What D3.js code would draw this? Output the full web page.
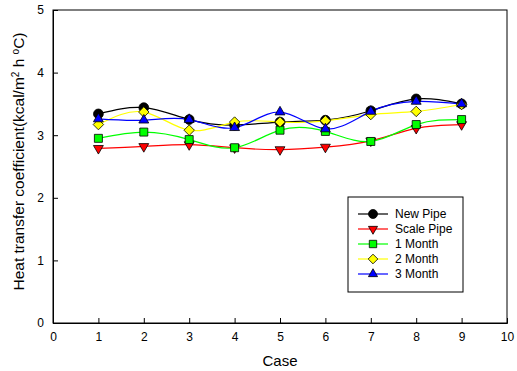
<!doctype html>
<html lang="en">
<head>
<meta charset="utf-8" />
<title>Heat transfer coefficient</title>
<script src="https://d3js.org/d3.v7.min.js"></script>
<style>
  body { margin: 0; background: #fff; font-family: "Liberation Sans", Arial, sans-serif; }
  svg text { font-family: "Liberation Sans", Arial, sans-serif; }
</style>
</head>
<body>
<div id="chart"></div>
<script>
// data
var cases = [1, 2, 3, 4, 5, 6, 7, 8, 9];
var newPipe   = [3.34, 3.44, 3.25, 3.16, 3.21, 3.24, 3.39, 3.58, 3.50];
var scalePipe = [2.79, 2.82, 2.85, 2.80, 2.77, 2.81, 2.91, 3.11, 3.17];
var month1    = [2.95, 3.05, 2.93, 2.80, 3.08, 3.06, 2.90, 3.17, 3.25];
var month2    = [3.17, 3.37, 3.08, 3.21, 3.21, 3.23, 3.33, 3.38, 3.49];
var month3    = [3.26, 3.24, 3.25, 3.12, 3.37, 3.10, 3.38, 3.54, 3.50];
var xTicks = [0, 1, 2, 3, 4, 5, 6, 7, 8, 9, 10];
var yTicks = [0, 1, 2, 3, 4, 5];

var series = [
  { name: "New Pipe",   values: newPipe,   line: "#000000", fill: "#000000", symbol: d3.symbolCircle },
  { name: "Scale Pipe", values: scalePipe, line: "#ff0000", fill: "#ff0000", symbol: "down" },
  { name: "1 Month",    values: month1,    line: "#00ff00", fill: "#00ff00", symbol: d3.symbolSquare },
  { name: "2 Month",    values: month2,    line: "#ffff00", fill: "#ffff00", symbol: d3.symbolDiamond2 },
  { name: "3 Month",    values: month3,    line: "#0000ff", fill: "#0000ff", symbol: d3.symbolTriangle2 }
];

var W = 517, H = 371;
var m = { left: 53, right: 10, top: 10, bottom: 48 };

var svg = d3.select("#chart").append("svg")
  .attr("width", W).attr("height", H);

var x = d3.scaleLinear().domain([0, 10]).range([m.left, W - m.right]);
var y = d3.scaleLinear().domain([0, 5]).range([H - m.bottom, m.top]);

// frame
svg.append("rect")
  .attr("x", x(0)).attr("y", y(5))
  .attr("width", x(10) - x(0)).attr("height", y(0) - y(5))
  .attr("fill", "none").attr("stroke", "#000").attr("stroke-width", 1);

var xAxis = svg.append("g")
  .attr("transform", "translate(0," + y(0) + ")")
  .call(d3.axisBottom(x).tickValues(xTicks).tickSize(-5).tickPadding(9).tickFormat(d3.format("d")));
var yAxis = svg.append("g")
  .attr("transform", "translate(" + x(0) + ",0)")
  .call(d3.axisLeft(y).tickValues(yTicks).tickSize(-5).tickPadding(9).tickFormat(d3.format("d")));

[xAxis, yAxis].forEach(function(a) {
  a.select(".domain").attr("stroke", "#000");
  a.selectAll(".tick line").attr("stroke", "#000");
  a.selectAll(".tick text").attr("font-size", 12).attr("fill", "#000");
});

// axis titles
svg.append("text")
  .attr("x", (x(0) + x(10)) / 2).attr("y", 366)
  .attr("text-anchor", "middle").attr("font-size", 15)
  .text("Case");

var yl = svg.append("text")
  .attr("transform", "translate(24," + ((y(0) + y(5)) / 2 - 5) + ") rotate(-90)")
  .attr("text-anchor", "middle").attr("font-size", 15.5);
yl.append("tspan").text("Heat transfer coefficient(kcal/m");
yl.append("tspan").attr("baseline-shift", "super").attr("font-size", 10).text("2");
yl.append("tspan").text(" h ");
yl.append("tspan").attr("baseline-shift", "super").attr("font-size", 10).text("o");
yl.append("tspan").text("C)");

function symPath(s, size) {
  if (s === "down") {
    return d3.symbol().type(d3.symbolTriangle2).size(size)();
  }
  return d3.symbol().type(s).size(size)();
}
function symSize(s) {
  if (s === d3.symbolCircle) return 75;
  if (s === d3.symbolSquare) return 64;
  if (s === d3.symbolDiamond2) return 70;
  return 70;
}

var line = d3.line()
  .x(function(d, i) { return x(cases[i]); })
  .y(function(d) { return y(d); })
  .curve(d3.curveNatural);

series.forEach(function(s) {
  svg.append("path")
    .attr("d", line(s.values))
    .attr("fill", "none")
    .attr("stroke", s.line)
    .attr("stroke-width", 1.2);
});

series.forEach(function(s) {
  svg.append("g").selectAll("path")
    .data(s.values)
    .join("path")
    .attr("d", symPath(s.symbol, symSize(s.symbol)))
    .attr("transform", function(d, i) {
      return "translate(" + x(cases[i]) + "," + y(d) + ")" + (s.symbol === "down" ? " rotate(180)" : "");
    })
    .attr("fill", s.fill)
    .attr("stroke", "#000")
    .attr("stroke-width", 0.8);
});

// legend
var lg = svg.append("g").attr("transform", "translate(348,197)");
lg.append("rect")
  .attr("width", 115).attr("height", 95)
  .attr("fill", "#fff").attr("stroke", "#000");
series.forEach(function(s, i) {
  var ly = 17 + i * 15;
  lg.append("line")
    .attr("x1", 10).attr("x2", 40).attr("y1", ly).attr("y2", ly)
    .attr("stroke", s.line).attr("stroke-width", 1.2);
  lg.append("path")
    .attr("d", symPath(s.symbol, symSize(s.symbol) * 0.85))
    .attr("transform", "translate(25," + ly + ")" + (s.symbol === "down" ? " rotate(180)" : ""))
    .attr("fill", s.fill).attr("stroke", "#000").attr("stroke-width", 0.8);
  lg.append("text")
    .attr("x", 47).attr("y", ly + 4)
    .attr("font-size", 12)
    .text(s.name);
});
</script>
</body>
</html>
